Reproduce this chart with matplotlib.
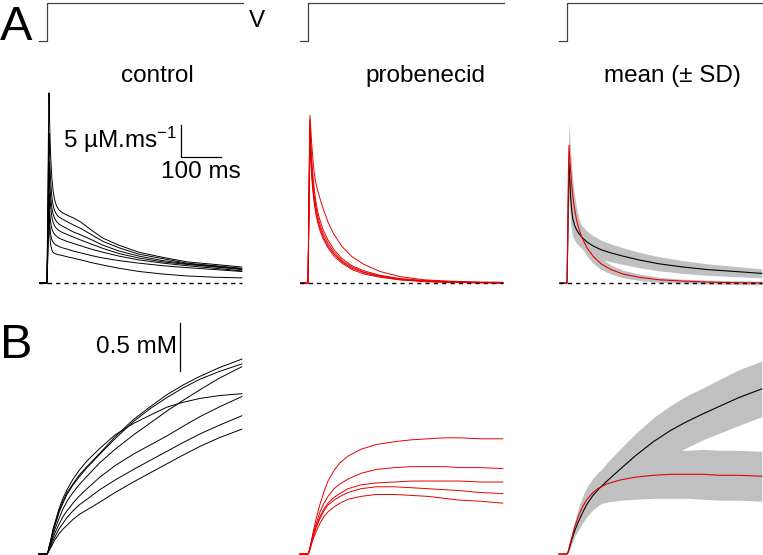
import numpy as np
import matplotlib.pyplot as plt

plt.rcParams['font.family'] = 'Liberation Sans'
plt.rcParams['mathtext.fontset'] = 'custom'
plt.rcParams['mathtext.rm'] = 'Liberation Sans'
plt.rcParams['mathtext.it'] = 'Liberation Sans:italic'

# voltage protocol (ms, mV)
step_t = [-20, 0, 0, 490]
step_v = [-80, -80, 10, 10]

# Ca release flux (uM/ms), time from step onset (ms)
t_flux = [-20, 0, 2, 4, 5, 7, 9, 12, 15, 19, 24, 30, 38, 50, 65, 85, 110, 140, 180, 230, 290, 350, 420, 487]

flux_control = [
    [0, 0, 12, 26, 29.7, 24, 20, 16.5, 14.5, 13, 12, 11.4, 11, 10.6, 10.2, 9.5, 8.3, 7.0, 5.9, 4.8, 4.0, 3.3, 2.9, 2.5],
    [0, 0, 10, 21, 23.4, 19, 16, 13.6, 12.2, 11.3, 10.7, 10.3, 10.0, 9.6, 9.1, 8.5, 7.6, 6.5, 5.5, 4.5, 3.8, 3.1, 2.7, 2.3],
    [0, 0, 8, 17, 19, 15.5, 13.5, 11.8, 10.8, 10.1, 9.6, 9.2, 8.9, 8.5, 8.0, 7.5, 6.8, 5.9, 5.0, 4.2, 3.5, 3.0, 2.6, 2.2],
    [0, 0, 7, 15, 17.3, 14, 12, 10.4, 9.5, 8.9, 8.5, 8.2, 7.9, 7.6, 7.2, 6.7, 6.1, 5.4, 4.6, 3.9, 3.3, 2.9, 2.5, 2.1],
    [0, 0, 6, 12.5, 14, 11, 9.5, 8.5, 8.0, 7.6, 7.3, 7.0, 6.8, 6.5, 6.2, 5.8, 5.3, 4.8, 4.2, 3.6, 3.1, 2.7, 2.3, 1.9],
    [0, 0, 5, 10.5, 12, 9, 7.6, 6.8, 6.4, 6.1, 5.9, 5.7, 5.5, 5.3, 5.0, 4.7, 4.3, 3.9, 3.5, 3.1, 2.7, 2.4, 2.1, 1.8],
    [0, 0, 4, 9, 10.5, 7.5, 6.0, 5.2, 4.8, 4.6, 4.5, 4.4, 4.3, 4.1, 3.9, 3.6, 3.2, 2.8, 2.3, 1.8, 1.4, 1.1, 0.9, 0.8],
]

flux_probenecid = [
    [0, 0, 11, 23, 26.2, 24, 22, 19.5, 17.5, 15.8, 14.5, 13.2, 11.6, 9.5, 7.6, 5.7, 4.1, 2.9, 1.8, 1.0, 0.5, 0.3, 0.15, 0.1],
    [0, 0, 10, 22, 25.5, 22, 19.5, 17, 15, 13, 11.2, 9.8, 8.3, 6.7, 5.2, 3.8, 2.7, 1.9, 1.2, 0.7, 0.4, 0.2, 0.1, 0.1],
    [0, 0, 10, 21, 24.5, 21, 18.5, 16, 14, 12.2, 10.5, 9.1, 7.7, 6.2, 4.8, 3.5, 2.5, 1.7, 1.1, 0.6, 0.3, 0.2, 0.1, 0.0],
    [0, 0, 9, 20, 23.5, 20, 17.5, 15, 13.2, 11.5, 9.9, 8.6, 7.2, 5.8, 4.5, 3.3, 2.3, 1.6, 1.0, 0.5, 0.3, 0.1, 0.1, 0.0],
    [0, 0, 9, 19, 22.5, 19, 16.8, 14.5, 12.7, 11, 9.5, 8.2, 6.9, 5.5, 4.2, 3.1, 2.1, 1.4, 0.9, 0.5, 0.2, 0.1, 0.0, 0.0],
]

flux_mean_control = [0, 0, 7, 16, 18.7, 16, 13.5, 11.2, 9.9, 9.0, 8.3, 7.7, 7.1, 6.4, 5.8, 5.2, 4.7, 4.2, 3.6, 3.0, 2.5, 2.1, 1.8, 1.5]
flux_sd_control = [0, 0, 2, 4.5, 5.5, 5, 4.2, 3.3, 2.7, 2.3, 2.1, 1.9, 1.8, 1.7, 1.6, 1.5, 1.4, 1.3, 1.2, 1.1, 1.0, 0.9, 0.8, 0.7]
flux_mean_prob = [0, 0, 9, 19, 21.5, 19.5, 17.5, 15.2, 13.3, 11.5, 9.8, 8.4, 7.0, 5.5, 4.2, 3.0, 2.1, 1.4, 0.9, 0.5, 0.3, 0.15, 0.05, 0.0]
flux_sd_prob = [0, 0, 1.5, 3, 3.5, 3.2, 3.0, 2.7, 2.4, 2.1, 1.9, 1.7, 1.5, 1.3, 1.1, 0.9, 0.7, 0.6, 0.5, 0.4, 0.3, 0.3, 0.3, 0.3]

# released Ca (mM)
t_ca = [-20, 0, 3, 6, 10, 15, 20, 30, 40, 50, 65, 80, 100, 132, 170, 216, 260, 300, 340, 382, 430, 487]

ca_control = [
    [0, 0, 0.03, 0.08, 0.15, 0.24, 0.31, 0.45, 0.55, 0.64, 0.73, 0.82, 0.91, 1.05, 1.22, 1.40, 1.54, 1.66, 1.76, 1.85, 1.94, 2.03],
    [0, 0, 0.03, 0.09, 0.16, 0.26, 0.33, 0.47, 0.58, 0.67, 0.78, 0.87, 0.97, 1.10, 1.24, 1.36, 1.45, 1.53, 1.58, 1.62, 1.65, 1.67],
    [0, 0, 0.03, 0.08, 0.14, 0.23, 0.30, 0.43, 0.53, 0.62, 0.72, 0.80, 0.90, 1.04, 1.20, 1.38, 1.52, 1.63, 1.73, 1.82, 1.90, 1.98],
    [0, 0, 0.02, 0.07, 0.12, 0.20, 0.26, 0.37, 0.47, 0.55, 0.64, 0.72, 0.81, 0.95, 1.09, 1.24, 1.37, 1.49, 1.60, 1.71, 1.83, 1.95],
    [0, 0, 0.02, 0.06, 0.11, 0.17, 0.22, 0.31, 0.39, 0.45, 0.53, 0.60, 0.68, 0.80, 0.92, 1.04, 1.14, 1.23, 1.33, 1.43, 1.53, 1.64],
    [0, 0, 0.02, 0.05, 0.09, 0.14, 0.18, 0.26, 0.32, 0.38, 0.45, 0.51, 0.57, 0.67, 0.77, 0.88, 0.98, 1.07, 1.16, 1.25, 1.34, 1.44],
    [0, 0, 0.02, 0.04, 0.07, 0.11, 0.15, 0.21, 0.26, 0.30, 0.36, 0.41, 0.46, 0.54, 0.64, 0.75, 0.85, 0.94, 1.03, 1.12, 1.21, 1.30],
]

ca_probenecid = [
    [0, 0, 0.03, 0.09, 0.17, 0.27, 0.36, 0.52, 0.65, 0.76, 0.87, 0.95, 1.02, 1.09, 1.14, 1.17, 1.19, 1.20, 1.21, 1.21, 1.20, 1.20],
    [0, 0, 0.03, 0.08, 0.15, 0.24, 0.31, 0.44, 0.53, 0.60, 0.68, 0.73, 0.78, 0.84, 0.88, 0.90, 0.91, 0.91, 0.91, 0.90, 0.90, 0.89],
    [0, 0, 0.03, 0.08, 0.14, 0.22, 0.28, 0.39, 0.47, 0.53, 0.59, 0.63, 0.68, 0.72, 0.74, 0.75, 0.76, 0.76, 0.76, 0.76, 0.75, 0.75],
    [0, 0, 0.03, 0.07, 0.13, 0.21, 0.27, 0.37, 0.45, 0.51, 0.56, 0.60, 0.64, 0.68, 0.70, 0.70, 0.69, 0.68, 0.67, 0.66, 0.64, 0.63],
    [0, 0, 0.02, 0.06, 0.12, 0.18, 0.23, 0.32, 0.39, 0.44, 0.49, 0.53, 0.57, 0.60, 0.62, 0.62, 0.61, 0.60, 0.58, 0.56, 0.55, 0.53],
]

ca_mean_control = [0, 0, 0.02, 0.06, 0.12, 0.19, 0.25, 0.35, 0.44, 0.52, 0.61, 0.68, 0.76, 0.88, 1.02, 1.17, 1.29, 1.38, 1.46, 1.54, 1.63, 1.72]
ca_sd_control = [0, 0, 0.01, 0.02, 0.04, 0.05, 0.06, 0.09, 0.11, 0.13, 0.15, 0.17, 0.19, 0.21, 0.23, 0.25, 0.26, 0.27, 0.27, 0.28, 0.29, 0.29]
ca_mean_prob = [0, 0, 0.03, 0.08, 0.14, 0.22, 0.29, 0.41, 0.50, 0.57, 0.64, 0.69, 0.73, 0.77, 0.80, 0.82, 0.83, 0.83, 0.83, 0.82, 0.82, 0.81]
ca_sd_prob = [0, 0, 0.01, 0.02, 0.03, 0.05, 0.06, 0.09, 0.11, 0.13, 0.15, 0.17, 0.19, 0.21, 0.23, 0.24, 0.25, 0.25, 0.26, 0.26, 0.26, 0.26]

RED = '#e60000'
GREY = '#c0c0c0'
FS = 17.5

W, H = 763, 555
fig = plt.figure(figsize=(W / 100, H / 100), dpi=100)


def add_ax(left, top, right, bottom, ylim):
    ax = fig.add_axes([left / W, 1 - bottom / H, (right - left) / W, (bottom - top) / H])
    ax.set_xlim(-20, 490)
    ax.set_ylim(*ylim)
    ax.axis('off')
    return ax


onsets = [47, 308, 567]
ax_v, ax_f, ax_c = [], [], []
for x0 in onsets:
    ax_v.append(add_ax(x0 - 8, 0, x0 + 196, 45, (-88.2, 17.0)))
    ax_f.append(add_ax(x0 - 8, 85, x0 + 196, 290, (-7 / 6.4, 198 / 6.4)))
    ax_c.append(add_ax(x0 - 8, 315, x0 + 196, 555, (-1 / 96, 239 / 96)))

# voltage steps
for ax in ax_v:
    ax.plot(step_t, step_v, color='#444444', lw=0.9, clip_on=False)

# A: flux traces
for y in flux_control:
    ax_f[0].plot(t_flux, y, color='black', lw=0.7)
for y in flux_probenecid:
    ax_f[1].plot(t_flux, y, color=RED, lw=0.7)

m, s = np.array(flux_mean_control), np.array(flux_sd_control)
ax_f[2].fill_between(t_flux, m - s, m + s, color=GREY, lw=0)
m2, s2 = np.array(flux_mean_prob), np.array(flux_sd_prob)
ax_f[2].fill_between(t_flux, m2 - s2, m2 + s2, color=GREY, lw=0)
ax_f[2].plot(t_flux, flux_mean_control, color='black', lw=0.8)
ax_f[2].plot(t_flux, flux_mean_prob, color=RED, lw=0.8)

for ax in ax_f:
    ax.plot([t_flux[0], t_flux[-1]], [0, 0], color='black', lw=1.0,
            ls=(0, (3, 3)), zorder=5)

# B: released Ca
for y in ca_control:
    ax_c[0].plot(t_ca, y, color='black', lw=0.7, clip_on=False)
for y in ca_probenecid:
    ax_c[1].plot(t_ca, y, color=RED, lw=0.7, clip_on=False)

m, s = np.array(ca_mean_control), np.array(ca_sd_control)
ax_c[2].fill_between(t_ca, m - s, m + s, color=GREY, lw=0)
m2, s2 = np.array(ca_mean_prob), np.array(ca_sd_prob)
ax_c[2].fill_between(t_ca, m2 - s2, m2 + s2, color=GREY, lw=0)
ax_c[2].plot(t_ca, ca_mean_control, color='black', lw=0.8, clip_on=False)
ax_c[2].plot(t_ca, ca_mean_prob, color=RED, lw=0.8, clip_on=False)

# scale bars
sb_t, sb_f = 335, 19.7
ax_f[0].plot([sb_t, sb_t, sb_t + 100], [sb_f + 5, sb_f, sb_f], color='black', lw=0.9)
ax_f[0].text(sb_t - 10, sb_f + 2.6, '5 µM.ms$^{-1}$', fontsize=FS, ha='right', va='center')
ax_f[0].text(sb_t + 50, sb_f - 0.6, '100 ms', fontsize=FS, ha='center', va='top')

sb_c = 1.906
ax_c[0].plot([332, 332], [sb_c, sb_c + 0.5], color='black', lw=0.9)
ax_c[0].text(326, sb_c + 0.25, '0.5 mM', fontsize=FS, ha='right', va='center')

# labels
fig.text(0 / W, 1 - 40 / H, 'A', fontsize=35, ha='left', va='baseline')
fig.text(0 / W, 1 - 358 / H, 'B', fontsize=35, ha='left', va='baseline')
fig.text(249 / W, 1 - 27 / H, 'V', fontsize=FS, ha='left', va='baseline')
titles = ['control', 'probenecid', 'mean (± SD)']
for x, title in zip([157, 425, 672], titles):
    fig.text(x / W, 1 - 82 / H, title, fontsize=FS, ha='center', va='baseline')

fig.savefig('out.png', dpi=100)
